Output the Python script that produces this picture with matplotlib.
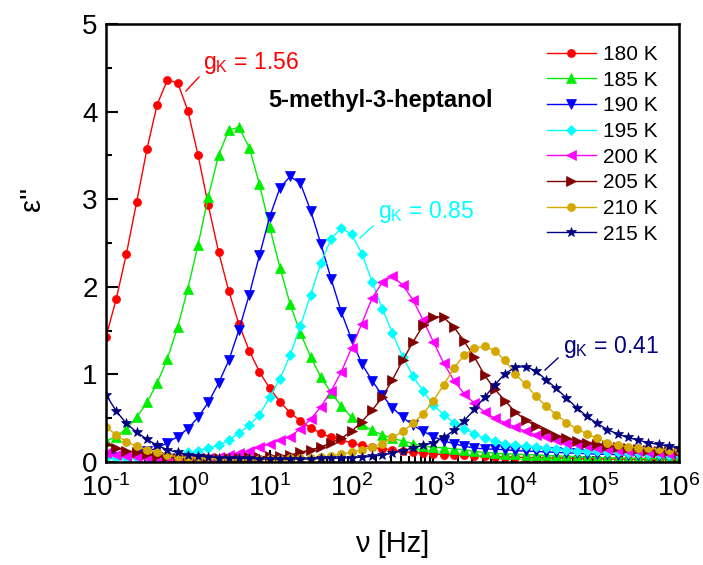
import numpy as np
import matplotlib
matplotlib.use("Agg")
import matplotlib.pyplot as plt
from matplotlib.ticker import LogLocator, MultipleLocator, FixedLocator, FixedFormatter, NullFormatter

plt.rcParams['font.family'] = ['Liberation Sans', 'DejaVu Sans']
plt.rcParams['axes.unicode_minus'] = False

# measurement grid: 8 points per decade, 0.1 Hz .. 1 MHz
freq = np.logspace(-1, 6, 57)

labels = ["180 K", "185 K", "190 K", "195 K", "200 K", "205 K", "210 K", "215 K"]
xtick_values = [1e-1, 1e0, 1e1, 1e2, 1e3, 1e4, 1e5, 1e6]
xtick_labels = [r'$\mathdefault{10^{‐1}}$', r'$\mathdefault{10^{0}}$', r'$\mathdefault{10^{1}}$',
                r'$\mathdefault{10^{2}}$', r'$\mathdefault{10^{3}}$', r'$\mathdefault{10^{4}}$',
                r'$\mathdefault{10^{5}}$', r'$\mathdefault{10^{6}}$']

eps_180 = [1.43, 1.86, 2.38, 2.97, 3.57, 4.08, 4.36, 4.33, 4.01, 3.50, 2.93, 2.40, 1.95, 1.57, 1.27,
           1.03, 0.84, 0.69, 0.56, 0.47, 0.39, 0.33, 0.28, 0.25, 0.22, 0.19, 0.17, 0.15, 0.14, 0.12,
           0.11, 0.10, 0.09, 0.085, 0.08, 0.075, 0.07, 0.065, 0.06, 0.057, 0.054, 0.051, 0.048,
           0.046, 0.044, 0.042, 0.04, 0.038, 0.036, 0.034, 0.032, 0.031, 0.03, 0.029, 0.028,
           0.027, 0.026]
eps_185 = [0.24, 0.29, 0.38, 0.51, 0.68, 0.90, 1.18, 1.54, 1.98, 2.48, 3.03, 3.50, 3.79, 3.82, 3.59,
           3.17, 2.68, 2.22, 1.80, 1.47, 1.20, 0.97, 0.79, 0.64, 0.51, 0.43, 0.36, 0.31, 0.27, 0.24,
           0.21, 0.18, 0.17, 0.16, 0.15, 0.14, 0.12, 0.11, 0.10, 0.095, 0.09, 0.085, 0.08, 0.075,
           0.07, 0.065, 0.06, 0.056, 0.052, 0.049, 0.046, 0.043, 0.041, 0.039, 0.037, 0.035, 0.034]
eps_190 = [0.05, 0.055, 0.07, 0.09, 0.12, 0.16, 0.22, 0.29, 0.38, 0.51, 0.68, 0.90, 1.16, 1.51, 1.91,
           2.36, 2.80, 3.13, 3.26, 3.18, 2.87, 2.49, 2.09, 1.71, 1.40, 1.12, 0.93, 0.76, 0.62, 0.51,
           0.42, 0.35, 0.29, 0.24, 0.21, 0.18, 0.16, 0.15, 0.145, 0.14, 0.13, 0.125, 0.12, 0.115,
           0.11, 0.105, 0.10, 0.095, 0.09, 0.087, 0.084, 0.081, 0.078, 0.075, 0.072, 0.07, 0.068]
eps_195 = [0.05, 0.045, 0.045, 0.05, 0.055, 0.065, 0.075, 0.09, 0.11, 0.13, 0.16, 0.19, 0.25, 0.33,
           0.42, 0.54, 0.74, 0.95, 1.22, 1.55, 1.91, 2.27, 2.55, 2.67, 2.60, 2.38, 2.06, 1.75, 1.47,
           1.20, 0.98, 0.81, 0.65, 0.54, 0.45, 0.38, 0.32, 0.27, 0.24, 0.21, 0.19, 0.18, 0.17, 0.16,
           0.15, 0.14, 0.13, 0.125, 0.12, 0.115, 0.11, 0.105, 0.10, 0.095, 0.09, 0.085, 0.08]
eps_200 = [0.10, 0.08, 0.07, 0.06, 0.05, 0.045, 0.04, 0.04, 0.04, 0.045, 0.05, 0.06, 0.075, 0.10,
           0.13, 0.17, 0.21, 0.25, 0.29, 0.38, 0.49, 0.63, 0.81, 1.03, 1.30, 1.58, 1.87, 2.05, 2.12,
           2.02, 1.85, 1.62, 1.37, 1.13, 0.93, 0.78, 0.67, 0.57, 0.50, 0.45, 0.40, 0.35, 0.31, 0.28,
           0.25, 0.22, 0.20, 0.18, 0.16, 0.15, 0.14, 0.13, 0.12, 0.11, 0.10, 0.095, 0.09]
eps_205 = [0.21, 0.16, 0.13, 0.11, 0.09, 0.07, 0.06, 0.05, 0.045, 0.04, 0.04, 0.04, 0.045, 0.05,
           0.055, 0.06, 0.065, 0.07, 0.08, 0.11, 0.14, 0.17, 0.22, 0.27, 0.35, 0.46, 0.59, 0.74,
           0.94, 1.16, 1.37, 1.56, 1.66, 1.65, 1.54, 1.38, 1.20, 0.99, 0.83, 0.70, 0.57, 0.48, 0.41,
           0.35, 0.30, 0.27, 0.24, 0.22, 0.20, 0.18, 0.17, 0.16, 0.15, 0.14, 0.13, 0.125, 0.12]
eps_210 = [0.40, 0.31, 0.23, 0.18, 0.14, 0.11, 0.08, 0.06, 0.05, 0.045, 0.04, 0.035, 0.035, 0.035,
           0.035, 0.035, 0.035, 0.035, 0.04, 0.04, 0.045, 0.055, 0.07, 0.09, 0.11, 0.14, 0.17, 0.21,
           0.28, 0.35, 0.44, 0.55, 0.70, 0.88, 1.07, 1.22, 1.30, 1.32, 1.27, 1.16, 1.00, 0.89, 0.75,
           0.64, 0.54, 0.45, 0.38, 0.32, 0.27, 0.22, 0.19, 0.175, 0.165, 0.155, 0.15, 0.14, 0.135]
eps_215 = [0.77, 0.58, 0.44, 0.34, 0.26, 0.19, 0.14, 0.11, 0.08, 0.07, 0.06, 0.05, 0.045, 0.04, 0.04,
           0.035, 0.035, 0.035, 0.035, 0.035, 0.035, 0.04, 0.04, 0.045, 0.05, 0.055, 0.065, 0.08,
           0.10, 0.13, 0.16, 0.19, 0.22, 0.28, 0.36, 0.47, 0.60, 0.74, 0.88, 1.01, 1.08, 1.09, 1.04,
           0.94, 0.84, 0.73, 0.62, 0.52, 0.44, 0.37, 0.32, 0.28, 0.25, 0.22, 0.20, 0.18, 0.16]

series = [eps_180, eps_185, eps_190, eps_195, eps_200, eps_205, eps_210, eps_215]
colors = ['#FF0000', '#00EE00', '#0000FF', '#00FFFF', '#FF00FF', '#800000', '#D4A800', '#000080']
markers = ['o', '^', 'v', 'D', '<', '>', 'o', '*']
msizes = [5.8, 6.5, 6.5, 5.0, 6.5, 6.5, 5.8, 7.5]

fig = plt.figure(figsize=(7.03, 5.65), dpi=100)
ax = fig.add_axes([106/703, 1-462/565, 573/703, 438/565])

for y, c, m, ms, lab in zip(series, colors, markers, msizes, labels):
    ax.plot(freq, y, color=c, marker=m, markersize=ms, lw=1.0, label=lab,
            markeredgewidth=0.5, clip_on=True)

ax.set_xscale('log')
ax.set_xlim(1e-1, 1e6)
ax.set_ylim(0, 5)
ax.xaxis.set_major_locator(FixedLocator(xtick_values))
ax.xaxis.set_major_formatter(FixedFormatter(xtick_labels))
ax.xaxis.set_minor_locator(LogLocator(base=10, subs=np.arange(2, 10), numticks=100))
ax.xaxis.set_minor_formatter(NullFormatter())
ax.yaxis.set_major_locator(MultipleLocator(1))
ax.yaxis.set_minor_locator(MultipleLocator(0.5))

for s in ax.spines.values():
    s.set_linewidth(1.8)
ax.tick_params(which='both', direction='in', top=False, right=False, width=1.5)
ax.tick_params(which='major', length=8.5, labelsize=20)
ax.tick_params(which='minor', length=4.5)
ax.tick_params(axis='x', which='major', pad=9)
ax.tick_params(axis='y', which='major', pad=6)

ax.set_xlabel('ν [Hz]', fontsize=21, labelpad=20)
ax.set_ylabel("ε''", fontsize=21)
ax.yaxis.set_label_coords(-0.105, 0.60)

leg = ax.legend(loc='upper left', bbox_to_anchor=(0.7696, 0.952), frameon=False,
                fontsize=15, handlelength=2.35, handletextpad=0.35, labelspacing=0.32,
                borderpad=0, borderaxespad=0)

ax.text((268-106)/573, (462-100)/438, '5-methyl-3-heptanol', transform=ax.transAxes,
        fontsize=17, fontweight='bold', ha='left', va='center')

# annotations placed in pixel coordinates of the figure (y from top)
def note(txt, color, x_txt, y_txt, x0, y0, x1, y1):
    fig.text(x_txt/703, 1 - y_txt/565, txt, color=color, fontsize=16.5, ha='left', va='center')
    fig.add_artist(plt.Line2D([x0/703, x1/703], [1 - y0/565, 1 - y1/565], color=color, lw=1.0,
                              transform=fig.transFigure))

note(r'$\mathdefault{g_K}$ = 1.56', '#FF0000', 203, 63, 199, 77, 186, 91)
note(r'$\mathdefault{g_K}$ = 0.85', '#00FFFF', 378, 212, 373, 226, 360, 238)
note(r'$\mathdefault{g_K}$ = 0.41', '#000080', 563, 347, 558, 358, 545, 370)

fig.savefig('out.png', dpi=100)
